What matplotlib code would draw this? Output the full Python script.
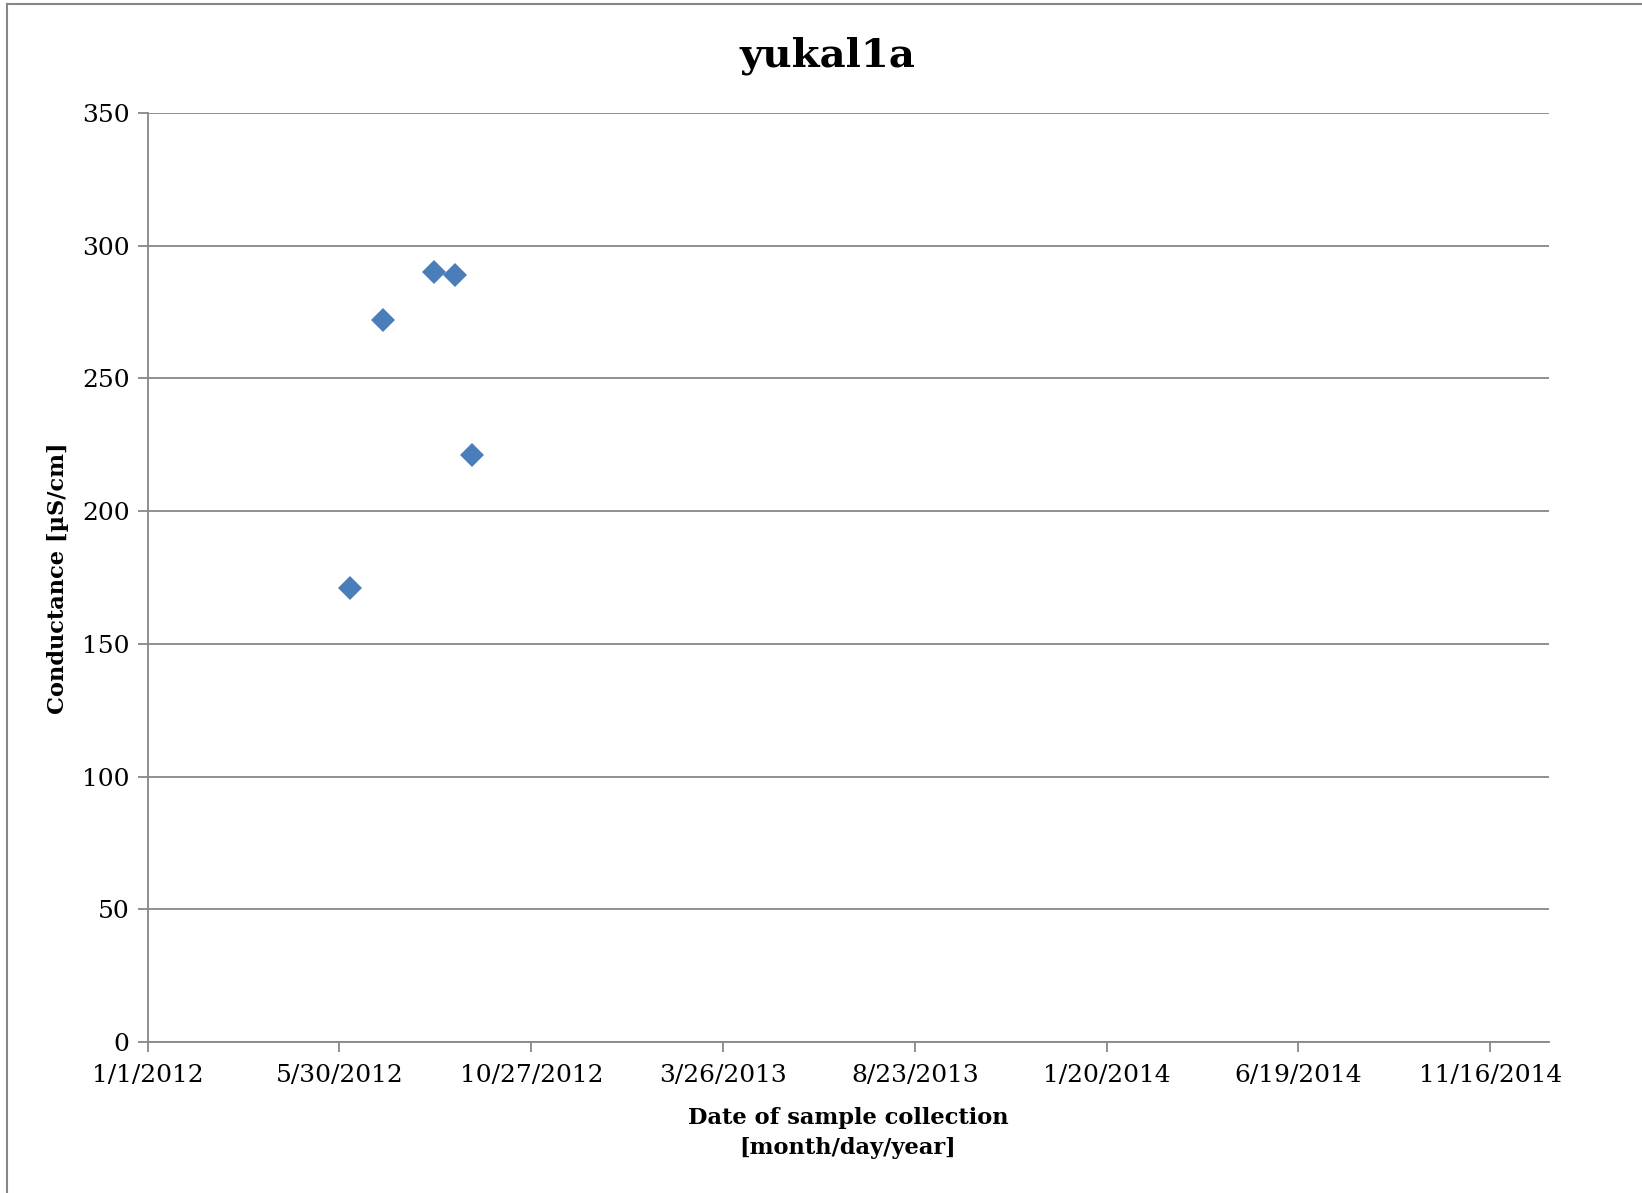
import matplotlib
matplotlib.use("Agg")
import matplotlib.pyplot as plt
from matplotlib.lines import Line2D
import datetime as dt

# Data
dates = [dt.date(2012, 6, 7), dt.date(2012, 7, 3), dt.date(2012, 8, 12),
         dt.date(2012, 8, 28), dt.date(2012, 9, 11)]
conductance = [171, 272, 290, 289, 221]

tick_dates = [dt.date(2012, 1, 1) + dt.timedelta(days=150 * i) for i in range(8)]
tick_labels = ["1/1/2012", "5/30/2012", "10/27/2012", "3/26/2013", "8/23/2013",
               "1/20/2014", "6/19/2014", "11/16/2014"]
y_ticks = [0, 50, 100, 150, 200, 250, 300, 350]

title = "yukal1a"
xlabel = "Date of sample collection\n[month/day/year]"
ylabel = "Conductance [µS/cm]"

plt.rcParams['font.family'] = ['DejaVu Serif']

fig = plt.figure(figsize=(16.42, 11.93), dpi=100)
ax = fig.add_axes([147.7 / 1642, 1 - 1042 / 1193, (1549 - 147.7) / 1642, (1042 - 113) / 1193])

grey = "#878787"
ax.plot(dates, conductance, linestyle="none", marker="D", markersize=12,
        color="#4A7EBB", markeredgewidth=0, zorder=3)

ax.set_xlim(dt.date(2012, 1, 1), dt.date(2015, 1, 1))
ax.set_ylim(0, 350)
ax.set_xticks(tick_dates)
ax.set_xticklabels(tick_labels)
ax.set_yticks(y_ticks)
ax.yaxis.grid(True, color=grey, linewidth=1.3)
ax.set_axisbelow(True)

for s in ["top", "right"]:
    ax.spines[s].set_visible(False)
for s in ["left", "bottom"]:
    ax.spines[s].set_color(grey)
    ax.spines[s].set_linewidth(1.3)

ax.tick_params(axis="both", direction="out", color=grey, width=1.3, length=7,
               labelsize=18, labelcolor="black")
ax.tick_params(axis="x", pad=9)
ax.tick_params(axis="y", pad=6)

fig.text(827 / 1642, 1 - 56 / 1193, title, ha="center", va="center",
         fontsize=29, fontweight="bold")
fig.text(848 / 1642, 1 - 1133 / 1193, xlabel, ha="center", va="center",
         fontsize=16.2, fontweight="bold", linespacing=1.45)
fig.text(57.6 / 1642, 1 - 578 / 1193, ylabel, ha="center", va="center",
         rotation=90, fontsize=16.2, fontweight="bold")

# Chart-area border (left and top edges visible)
bx = 7 / 1642
by = 1 - 4 / 1193
fig.add_artist(Line2D([bx, bx], [0, by], transform=fig.transFigure, color=grey, linewidth=1.5))
fig.add_artist(Line2D([bx, 1], [by, by], transform=fig.transFigure, color=grey, linewidth=1.5))

fig.savefig("out.png", dpi=100, facecolor="white")
